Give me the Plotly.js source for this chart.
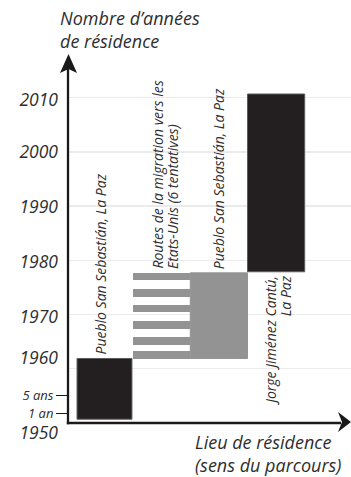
<!DOCTYPE html>
<html><head><meta charset="utf-8">
<script src="https://cdn.plot.ly/plotly-3.0.1.min.js"></script>
<style>html,body{margin:0;padding:0;background:#fff}#chart{width:351px;height:477px}</style>
</head><body><div id="chart"></div>
<script>
// ---- data ----
const places = ['Pueblo San Sebastián, La Paz',
                'Routes de la migration vers les<br>Etats-Unis (6 tentatives)',
                'Pueblo San Sebastián, La Paz',
                'Jorge Jiménez Cantú,<br>La Paz'];
const placeOrder = [1, 2, 3, 4];
const stayStart = [1950.7, 1961.9, 1961.9, 1977.9];
const stayEnd   = [1961.9, 1977.7, 1977.7, 2010.7];
const stayColor = ['#231f20', '#939393', '#939393', '#231f20'];
const attemptStart = [1961.8, 1964.4, 1967.3, 1970.4, 1973.3, 1976.3];
const attemptEnd   = [1963.3, 1965.9, 1968.8, 1971.8, 1974.7, 1977.7];
const yearTickPos  = [1948.1, 1962, 1969.5, 1979.7, 1989.9, 2000, 2009.6];
const yearTickText = ['1950', '1960', '1970', '1980', '1990', '2000', '2010'];
const durTickPos  = [1951.8, 1955.1];
const durTickText = ['1 an', '5 ans'];
const gridYears = [1960, 1970, 1980, 1990, 2000, 2010];
const originYear = 1950;
const yTitle = 'Nombre d’années<br>de résidence';
const xTitle = 'Lieu de résidence<br>(sens du parcours)';

// ---- layout constants ----
const W = 351, H = 477;
const M = {l: 68, r: 0, t: 54, b: 37};
const PW = W - M.l - M.r, PH = H - M.t - M.b;
const xRange = [0.362, 0.362 + PW / 57.2];
const yRange = [1946.86, 2018.08];
const txt = '#2e2e2e';
const fam = 'Open Sans, sans-serif';

const solidIdx = [0, 2, 3];
const traces = [
  {
    type: 'bar', x: solidIdx.map(i => placeOrder[i]),
    base: solidIdx.map(i => stayStart[i]),
    y: solidIdx.map(i => stayEnd[i] - stayStart[i]),
    width: [0.96, 1, 1],
    marker: {color: solidIdx.map(i => stayColor[i]),
             line: {color: solidIdx.map(i => stayColor[i] === '#231f20' ? '#5c5c5c' : stayColor[i]), width: 1}},
    hoverinfo: 'skip', showlegend: false
  },
  {
    type: 'bar', x: attemptStart.map(() => placeOrder[1]),
    base: attemptStart,
    y: attemptStart.map((s, i) => attemptEnd[i] - s),
    width: 1,
    marker: {color: stayColor[1], line: {width: 0}},
    hoverinfo: 'skip', showlegend: false
  },
  {type: 'scatter', x: [], y: [], yaxis: 'y2', showlegend: false},
  {type: 'scatter', x: [], y: [], yaxis: 'y3', showlegend: false}
];

// helpers: pixel offsets -> paper coordinates
const yp = v => (v - yRange[0]) / (yRange[1] - yRange[0]);
const dx = p => p / PW, dy = p => p / PH;
const oy = yp(originYear);

const shapes = [
  {type: 'line', xref: 'paper', yref: 'paper', x0: 0, x1: 0, y0: oy - dy(1.2), y1: 1 - dy(14),
   line: {color: '#1a1a1a', width: 2.3}},
  {type: 'line', xref: 'paper', yref: 'paper', x0: -dx(1.2), x1: 1 - dx(10), y0: oy, y1: oy,
   line: {color: '#1a1a1a', width: 2.4}},
  {type: 'path', xref: 'paper', yref: 'paper', fillcolor: '#1a1a1a', line: {width: 0},
   path: `M ${dx(0.5)},1 L ${dx(9)},${1 - dy(19)} L ${dx(0.5)},${1 - dy(15)} L ${dx(-8)},${1 - dy(19)} Z`},
  {type: 'path', xref: 'paper', yref: 'paper', fillcolor: '#1a1a1a', line: {width: 0},
   path: `M 1,${oy + dy(1)} L ${1 - dx(13)},${oy + dy(11)} L ${1 - dx(9)},${oy + dy(1)} L ${1 - dx(13)},${oy - dy(9)} Z`}
];

const labelFont = {family: fam, size: 14, style: 'italic', color: txt};
const annotations = [];
// vertical (rotated) place labels, one annotation per line
function placeLabel(i, y, above, groupShift, spacing) {
  const lines = places[i].split('<br>');
  const n = lines.length;
  lines.forEach((ln, k) => {
    annotations.push({
      x: placeOrder[i], y: y, yanchor: above ? 'bottom' : 'top', yshift: above ? 3 : -3,
      xshift: groupShift + (k - (n - 1) / 2) * spacing, textangle: -90,
      text: ln, showarrow: false, font: labelFont, borderpad: 0
    });
  });
}
placeLabel(0, stayEnd[0], true, -4, 15);
placeLabel(1, stayEnd[1], true, 3.5, 15);
placeLabel(2, stayEnd[2], true, -1, 15);
placeLabel(3, stayStart[3], false, 2, 14);

// horizontal titles (two-line text, vertical centre given in pixels)
function title(text, xPx, yPxMid, size) {
  annotations.push({
    xref: 'paper', yref: 'paper', x: dx(xPx - M.l), y: (H - M.b - yPxMid) / PH,
    xanchor: 'left', yanchor: 'middle', align: 'left', text: text, showarrow: false, borderpad: 0,
    font: {family: fam, size: size, style: 'italic', color: txt}
  });
}
title(yTitle, 59, 29.5, 18);
title(xTitle, 194, 453.5, 18);

const layout = {
  width: W, height: H, margin: M,
  paper_bgcolor: '#fff', plot_bgcolor: '#fff',
  barmode: 'overlay', bargap: 0,
  showlegend: false,
  xaxis: {range: xRange, showgrid: false, zeroline: false, showline: false,
          showticklabels: false, ticks: '', fixedrange: true},
  yaxis: {range: yRange, tickvals: gridYears, showticklabels: false, ticks: '',
          showgrid: true, gridcolor: '#ebebeb', gridwidth: 1.4, zeroline: false, showline: false},
  yaxis2: {range: yRange, overlaying: 'y', anchor: 'x', side: 'left', tickvals: yearTickPos,
           ticktext: yearTickText, ticks: '', showgrid: false, zeroline: false, showline: false,
           ticklabelstandoff: 9,
           tickfont: {family: fam, size: 17.5, style: 'italic', color: txt}},
  yaxis3: {range: yRange, overlaying: 'y', anchor: 'x', side: 'left', tickvals: durTickPos,
           ticktext: durTickText, ticks: 'outside', ticklen: 11, tickwidth: 1.3, tickcolor: '#1a1a1a',
           showgrid: false, zeroline: false, showline: false,
           tickfont: {family: fam, size: 13, style: 'italic', color: txt}},
  shapes: shapes,
  annotations: annotations
};

Plotly.newPlot('chart', traces, layout, {displayModeBar: false, staticPlot: true});
</script>
</body></html>
